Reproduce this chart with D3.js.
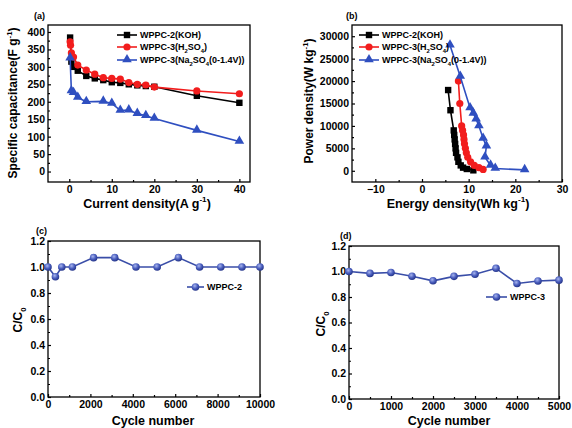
<!DOCTYPE html>
<html>
<head>
<meta charset="utf-8">
<script src="https://cdn.jsdelivr.net/npm/d3@7"></script>
<style>
  body { margin: 0; background: #fff; }
  svg { font-family: "Liberation Sans", Arial, sans-serif; font-weight: bold; }
</style>
</head>
<body>
<svg id="fig" width="572" height="428"></svg>
<script>
// (a) capacitance vs current density
var kohX = [0.2, 0.5, 1, 2, 4, 6, 8, 10, 12, 14, 16, 18, 20, 30, 40];
var kohC = [384, 315, 300, 289, 274, 267, 262, 256, 254, 250, 247, 245, 243, 217, 197];
var h2so4X = [0.2, 0.3, 0.5, 1, 2, 4, 6, 8, 10, 12, 14, 16, 18, 20, 30, 40];
var h2so4C = [372, 362, 340, 328, 305, 291, 279, 269, 267, 265, 255, 250, 248, 242, 231, 223];
var na2so4X = [0.2, 0.5, 1, 2, 4, 8, 10, 12, 14, 16, 18, 20, 30, 40];
var na2so4C = [325, 231, 226, 212, 200, 201, 195, 175, 176, 166, 160, 152, 118, 86];

// (b) Ragone plot
var kohE = [5.6, 6.1, 6.8, 6.9, 7.0, 7.1, 7.2, 7.3, 7.6, 7.8, 8.3, 8.8, 9.6, 11];
var kohP = [18000, 13500, 9000, 8000, 7000, 6000, 5000, 4000, 3000, 2000, 1200, 700, 400, 100];
var h2so4E = [7.8, 8.1, 8.5, 8.7, 8.9, 9.0, 9.1, 9.3, 9.5, 9.8, 10.4, 11.2, 12.2, 13.1];
var h2so4P = [20000, 15000, 10000, 9000, 8000, 7000, 6000, 5000, 4000, 3000, 2000, 1200, 700, 300];
var na2so4E = [6.0, 8.2, 10.3, 11.0, 11.6, 12.2, 13.1, 13.8, 13.5, 14.7, 15.7, 22];
var na2so4P = [28000, 21000, 14000, 12800, 11500, 10000, 7200, 5500, 3000, 1200, 500, 200];

// (c) and (d) cycling
var cycC = [0, 350, 650, 1150, 2150, 3150, 4150, 5150, 6150, 7150, 8150, 9150, 10000];
var retC = [1.0, 0.925, 1.0, 1.0, 1.072, 1.072, 1.0, 1.0, 1.072, 1.0, 1.0, 1.0, 1.0];
var cycD = [0, 500, 1000, 1500, 2000, 2500, 3000, 3500, 4000, 4500, 5000];
var retD = [1.0, 0.985, 0.992, 0.963, 0.927, 0.962, 0.978, 1.025, 0.906, 0.926, 0.932];

var BLACK = "#000", RED = "#f21d1d", BLUE = "#2f4fc0", BALL = "#3a4ea8";

var svg = d3.select("#fig");
var defs = svg.append("defs");
var grad = defs.append("radialGradient").attr("id", "ball").attr("cx", "40%").attr("cy", "35%").attr("r", "65%");
grad.append("stop").attr("offset", "0%").attr("stop-color", "#a9b6ee");
grad.append("stop").attr("offset", "55%").attr("stop-color", "#4b5fbf");
grad.append("stop").attr("offset", "100%").attr("stop-color", "#25358a");

// writes text pieces, with subscripts and superscripts
function richText(sel, parts, size) {
    var back = 0;
    parts.forEach(function (p) {
        if (typeof p === "string") {
            var t = sel.append("tspan").text(p);
            if (back) t.attr("dy", back);
            back = 0;
        } else {
            var shift = p.sub ? size * 0.3 : -size * 0.45;
            sel.append("tspan").attr("font-size", size * 0.65).attr("dy", shift + back).text(p.sub || p.sup);
            back = -shift;
        }
    });
}

function drawMarker(g, kind, x, y, color) {
    if (kind == "square") {
        g.append("rect").attr("x", x - 3.2).attr("y", y - 3.2).attr("width", 6.4).attr("height", 6.4).attr("fill", color);
    } else if (kind == "circle") {
        g.append("circle").attr("cx", x).attr("cy", y).attr("r", 3.6).attr("fill", color);
    } else if (kind == "triangle") {
        g.append("path").attr("d", d3.symbol().type(d3.symbolTriangle).size(40)()).attr("transform", "translate(" + x + "," + (y - 0.5) + ")").attr("fill", color);
    } else {
        g.append("circle").attr("cx", x).attr("cy", y).attr("r", 3.8).attr("fill", "url(#ball)");
    }
}

function makePanel(p) {
    var x = d3.scaleLinear().domain(p.xDomain).range([p.left, p.right]);
    var y = d3.scaleLinear().domain(p.yDomain).range([p.bottom, p.top]);
    var g = svg.append("g");

    g.append("rect").attr("x", p.left).attr("y", p.top)
        .attr("width", p.right - p.left).attr("height", p.bottom - p.top)
        .attr("fill", "none").attr("stroke", "#000").attr("stroke-width", 1.3);

    g.append("g").attr("transform", "translate(0," + p.bottom + ")")
        .call(d3.axisBottom(x).tickValues(p.xTicks).tickSize(-3).tickPadding(4).tickFormat(d3.format("d")));
    g.append("g").attr("transform", "translate(0," + p.bottom + ")")
        .call(d3.axisBottom(x).tickValues(p.xMinor).tickSize(-2).tickFormat(""));
    g.append("g").attr("transform", "translate(" + p.left + ",0)")
        .call(d3.axisLeft(y).tickValues(p.yTicks).tickSize(-3).tickPadding(3).tickFormat(p.yFormat));
    g.append("g").attr("transform", "translate(" + p.left + ",0)")
        .call(d3.axisLeft(y).tickValues(p.yMinor).tickSize(-2).tickFormat(""));
    g.selectAll(".domain").remove();
    g.selectAll(".tick line").attr("stroke", "#000").attr("stroke-width", 1.2);
    g.selectAll(".tick text").attr("font-size", 10.5).attr("font-family", "Liberation Sans, Arial").attr("font-weight", "bold").attr("fill", "#000");

    p.series.forEach(function (s) {
        var pts = s.xs.map(function (v, i) { return [x(v), y(s.ys[i])]; });
        g.append("path").attr("d", d3.line()(pts)).attr("fill", "none")
            .attr("stroke", s.color).attr("stroke-width", 1.6);
        pts.forEach(function (q) { drawMarker(g, s.marker, q[0], q[1], s.color); });
    });

    p.legend.forEach(function (l) {
        var ly = l.y;
        g.append("line").attr("x1", l.x1).attr("x2", l.x2).attr("y1", ly).attr("y2", ly)
            .attr("stroke", l.color).attr("stroke-width", 1.6);
        drawMarker(g, l.marker, (l.x1 + l.x2) / 2, ly, l.color);
        var t = g.append("text").attr("x", l.x2 + 3).attr("y", ly + 3.2).attr("font-size", 9);
        richText(t, l.text, 9);
    });

    var xt = g.append("text").attr("x", p.xTitle[0]).attr("y", p.xTitle[1])
        .attr("text-anchor", "middle").attr("font-size", 12.5);
    richText(xt, p.xTitle[2], 12.5);
    var yt = g.append("text").attr("transform", "translate(" + p.yTitle[0] + "," + p.yTitle[1] + ") rotate(-90)")
        .attr("text-anchor", "middle").attr("font-size", 12);
    richText(yt, p.yTitle[2], 12);

    g.append("text").attr("x", p.tag[0]).attr("y", p.tag[1]).attr("font-size", 9).text(p.tag[2]);
}

makePanel({
    left: 48, right: 250, top: 25, bottom: 182,
    xDomain: [-5, 42.5], yDomain: [-30, 420],
    xTicks: [0, 10, 20, 30, 40], xMinor: [5, 15, 25, 35],
    yTicks: d3.range(0, 401, 50), yMinor: d3.range(25, 401, 50), yFormat: d3.format("d"),
    series: [
        { xs: kohX, ys: kohC, color: BLACK, marker: "square" },
        { xs: h2so4X, ys: h2so4C, color: RED, marker: "circle" },
        { xs: na2so4X, ys: na2so4C, color: BLUE, marker: "triangle" }
    ],
    legend: [
        { x1: 117, x2: 137, y: 35, color: BLACK, marker: "square", text: ["WPPC-2(KOH)"] },
        { x1: 117, x2: 137, y: 47, color: RED, marker: "circle", text: ["WPPC-3(H", { sub: "2" }, "SO", { sub: "4" }, ")"] },
        { x1: 117, x2: 137, y: 60, color: BLUE, marker: "triangle", text: ["WPPC-3(Na", { sub: "2" }, "SO", { sub: "4" }, "(0-1.4V))"] }
    ],
    xTitle: [147, 208, ["Current density(A g", { sup: "-1" }, ")"]],
    yTitle: [17, 103, ["Specific capacitance(F g", { sup: "-1" }, ")"]],
    tag: [34, 19, "(a)"]
});

makePanel({
    left: 352, right: 562, top: 25, bottom: 182,
    xDomain: [-15, 30], yDomain: [-2500, 32500],
    xTicks: [-10, 0, 10, 20, 30], xMinor: [-5, 5, 15, 25],
    yTicks: d3.range(0, 30001, 5000), yMinor: d3.range(2500, 30001, 5000), yFormat: d3.format("d"),
    series: [
        { xs: kohE, ys: kohP, color: BLACK, marker: "square" },
        { xs: h2so4E, ys: h2so4P, color: RED, marker: "circle" },
        { xs: na2so4E, ys: na2so4P, color: BLUE, marker: "triangle" }
    ],
    legend: [
        { x1: 359, x2: 379, y: 35, color: BLACK, marker: "square", text: ["WPPC-2(KOH)"] },
        { x1: 359, x2: 379, y: 47, color: RED, marker: "circle", text: ["WPPC-3(H", { sub: "2" }, "SO", { sub: "4" }, ")"] },
        { x1: 359, x2: 379, y: 60, color: BLUE, marker: "triangle", text: ["WPPC-3(Na", { sub: "2" }, "SO", { sub: "4" }, "(0-1.4V))"] }
    ],
    xTitle: [458, 208, ["Energy density(Wh kg", { sup: "-1" }, ")"]],
    yTitle: [313, 101, ["Power density(W kg", { sup: "-1" }, ")"]],
    tag: [346, 19, "(b)"]
});

makePanel({
    left: 48, right: 260, top: 241, bottom: 397,
    xDomain: [0, 10000], yDomain: [0, 1.2],
    xTicks: d3.range(0, 10001, 2000), xMinor: d3.range(1000, 10000, 2000),
    yTicks: d3.range(0, 1.21, 0.2), yMinor: d3.range(0.1, 1.2, 0.2), yFormat: d3.format(".1f"),
    series: [{ xs: cycC, ys: retC, color: BALL, marker: "ball" }],
    legend: [{ x1: 187, x2: 204, y: 287, color: BALL, marker: "ball", text: ["WPPC-2"] }],
    xTitle: [153, 425, ["Cycle number"]],
    yTitle: [22, 320, ["C/C", { sub: "0" }]],
    tag: [36, 234, "(c)"]
});

makePanel({
    left: 349, right: 559, top: 246, bottom: 399,
    xDomain: [0, 5000], yDomain: [0, 1.2],
    xTicks: d3.range(0, 5001, 1000), xMinor: d3.range(500, 5000, 1000),
    yTicks: d3.range(0, 1.21, 0.2), yMinor: d3.range(0.1, 1.2, 0.2), yFormat: d3.format(".1f"),
    series: [{ xs: cycD, ys: retD, color: BALL, marker: "ball" }],
    legend: [{ x1: 486, x2: 507, y: 297, color: BALL, marker: "ball", text: ["WPPC-3"] }],
    xTitle: [449, 425, ["Cycle number"]],
    yTitle: [325, 324, ["C/C", { sub: "0" }]],
    tag: [340, 239, "(d)"]
});
</script>
</body>
</html>
